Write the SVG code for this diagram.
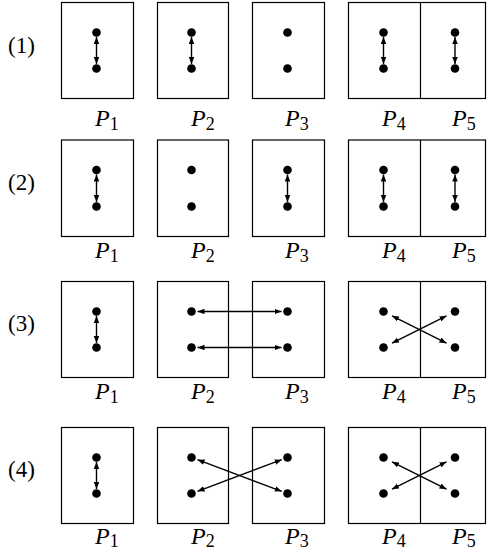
<svg xmlns="http://www.w3.org/2000/svg" width="487" height="553" viewBox="0 0 487 553">
<style>
.box{fill:none;stroke:#000;stroke-width:1.2}
.dot{fill:#000}
.arr{stroke:#000;stroke-width:1.4;fill:none;marker-start:url(#ah);marker-end:url(#ah)}
.row{font-family:"Liberation Serif","Times New Roman",serif;font-size:23px;fill:#000}
.lab{font-family:"Liberation Serif","Times New Roman",serif;font-size:24px;fill:#000}
.lab .p{font-style:italic}
.lab .s{font-size:18px}
</style>
<defs>
<marker id="ah" markerUnits="userSpaceOnUse" markerWidth="8" markerHeight="6" refX="7" refY="2.75" orient="auto-start-reverse">
<path d="M0,0 L7,2.75 L0,5.5 z" fill="#000"/>
</marker>
</defs>

<g id="row-labels">
<text class="row" x="8" y="53">(1)</text>
<text class="row" x="8" y="190">(2)</text>
<text class="row" x="8" y="331">(3)</text>
<text class="row" x="8" y="477">(4)</text>
</g>

<!-- Row 1 -->
<g id="r1">
<g id="r1-P1"><rect class="box" x="61.5" y="2.5" width="72" height="96"/><circle class="dot" cx="96.5" cy="32.5" r="4.3"/><circle class="dot" cx="96.5" cy="68.5" r="4.3"/></g>
<g id="r1-P2"><rect class="box" x="157.5" y="2.5" width="71" height="96"/><circle class="dot" cx="191.5" cy="32.5" r="4.3"/><circle class="dot" cx="191.5" cy="68.5" r="4.3"/></g>
<g id="r1-P3"><rect class="box" x="252.5" y="2.5" width="72" height="96"/><circle class="dot" cx="287.5" cy="32.5" r="4.3"/><circle class="dot" cx="287.5" cy="68.5" r="4.3"/></g>
<g id="r1-P45"><rect class="box" x="348.5" y="2.5" width="137" height="96"/><line class="box" x1="420.5" y1="2.5" x2="420.5" y2="98.5"/><circle class="dot" cx="383.5" cy="32.5" r="4.3"/><circle class="dot" cx="383.5" cy="68.5" r="4.3"/><circle class="dot" cx="455" cy="32.5" r="4.3"/><circle class="dot" cx="455" cy="68.5" r="4.3"/></g>
<g id="r1-labels" class="lab">
<text x="95" y="126"><tspan class="p">P</tspan><tspan class="s" dy="3.5">1</tspan></text>
<text x="191" y="126"><tspan class="p">P</tspan><tspan class="s" dy="3.5">2</tspan></text>
<text x="285" y="126"><tspan class="p">P</tspan><tspan class="s" dy="3.5">3</tspan></text>
<text x="382" y="126"><tspan class="p">P</tspan><tspan class="s" dy="3.5">4</tspan></text>
<text x="452" y="126"><tspan class="p">P</tspan><tspan class="s" dy="3.5">5</tspan></text>
</g>
</g>

<!-- Row 2 -->
<g id="r2">
<g id="r2-P1"><rect class="box" x="61.5" y="140" width="72" height="96.5"/><circle class="dot" cx="96.5" cy="170" r="4.3"/><circle class="dot" cx="96.5" cy="206.5" r="4.3"/></g>
<g id="r2-P2"><rect class="box" x="157.5" y="140" width="71" height="96.5"/><circle class="dot" cx="191.5" cy="170" r="4.3"/><circle class="dot" cx="191.5" cy="206.5" r="4.3"/></g>
<g id="r2-P3"><rect class="box" x="252.5" y="140" width="72" height="96.5"/><circle class="dot" cx="287.5" cy="170" r="4.3"/><circle class="dot" cx="287.5" cy="206.5" r="4.3"/></g>
<g id="r2-P45"><rect class="box" x="348.5" y="140" width="137" height="96.5"/><line class="box" x1="420.5" y1="140" x2="420.5" y2="236.5"/><circle class="dot" cx="383.5" cy="170" r="4.3"/><circle class="dot" cx="383.5" cy="206.5" r="4.3"/><circle class="dot" cx="455" cy="170" r="4.3"/><circle class="dot" cx="455" cy="206.5" r="4.3"/></g>
<g id="r2-labels" class="lab">
<text x="95" y="258"><tspan class="p">P</tspan><tspan class="s" dy="3.5">1</tspan></text>
<text x="191" y="258"><tspan class="p">P</tspan><tspan class="s" dy="3.5">2</tspan></text>
<text x="285" y="258"><tspan class="p">P</tspan><tspan class="s" dy="3.5">3</tspan></text>
<text x="382" y="258"><tspan class="p">P</tspan><tspan class="s" dy="3.5">4</tspan></text>
<text x="452" y="258"><tspan class="p">P</tspan><tspan class="s" dy="3.5">5</tspan></text>
</g>
</g>

<!-- Row 3 -->
<g id="r3">
<g id="r3-P1"><rect class="box" x="61.5" y="281.5" width="72" height="96"/><circle class="dot" cx="96.5" cy="311.5" r="4.3"/><circle class="dot" cx="96.5" cy="347.5" r="4.3"/></g>
<g id="r3-P2"><rect class="box" x="157.5" y="281.5" width="71" height="96"/><circle class="dot" cx="191.5" cy="311.5" r="4.3"/><circle class="dot" cx="191.5" cy="347.5" r="4.3"/></g>
<g id="r3-P3"><rect class="box" x="252.5" y="281.5" width="72" height="96"/><circle class="dot" cx="287.5" cy="311.5" r="4.3"/><circle class="dot" cx="287.5" cy="347.5" r="4.3"/></g>
<g id="r3-P45"><rect class="box" x="348.5" y="281.5" width="137" height="96"/><line class="box" x1="420.5" y1="281.5" x2="420.5" y2="377.5"/><circle class="dot" cx="383.5" cy="311.5" r="4.3"/><circle class="dot" cx="383.5" cy="347.5" r="4.3"/><circle class="dot" cx="455" cy="311.5" r="4.3"/><circle class="dot" cx="455" cy="347.5" r="4.3"/></g>
<g id="r3-labels" class="lab">
<text x="95" y="399"><tspan class="p">P</tspan><tspan class="s" dy="3.5">1</tspan></text>
<text x="191" y="399"><tspan class="p">P</tspan><tspan class="s" dy="3.5">2</tspan></text>
<text x="285" y="399"><tspan class="p">P</tspan><tspan class="s" dy="3.5">3</tspan></text>
<text x="382" y="399"><tspan class="p">P</tspan><tspan class="s" dy="3.5">4</tspan></text>
<text x="452" y="399"><tspan class="p">P</tspan><tspan class="s" dy="3.5">5</tspan></text>
</g>
</g>

<!-- Row 4 -->
<g id="r4">
<g id="r4-P1"><rect class="box" x="61.5" y="427.5" width="72" height="96"/><circle class="dot" cx="96.5" cy="457.5" r="4.3"/><circle class="dot" cx="96.5" cy="493.5" r="4.3"/></g>
<g id="r4-P2"><rect class="box" x="157.5" y="427.5" width="71" height="96"/><circle class="dot" cx="191.5" cy="457.5" r="4.3"/><circle class="dot" cx="191.5" cy="493.5" r="4.3"/></g>
<g id="r4-P3"><rect class="box" x="252.5" y="427.5" width="72" height="96"/><circle class="dot" cx="287.5" cy="457.5" r="4.3"/><circle class="dot" cx="287.5" cy="493.5" r="4.3"/></g>
<g id="r4-P45"><rect class="box" x="348.5" y="427.5" width="137" height="96"/><line class="box" x1="420.5" y1="427.5" x2="420.5" y2="523.5"/><circle class="dot" cx="383.5" cy="457.5" r="4.3"/><circle class="dot" cx="383.5" cy="493.5" r="4.3"/><circle class="dot" cx="455" cy="457.5" r="4.3"/><circle class="dot" cx="455" cy="493.5" r="4.3"/></g>
<g id="r4-labels" class="lab">
<text x="95" y="544"><tspan class="p">P</tspan><tspan class="s" dy="3">1</tspan></text>
<text x="191" y="544"><tspan class="p">P</tspan><tspan class="s" dy="3">2</tspan></text>
<text x="285" y="544"><tspan class="p">P</tspan><tspan class="s" dy="3">3</tspan></text>
<text x="382" y="544"><tspan class="p">P</tspan><tspan class="s" dy="3">4</tspan></text>
<text x="452" y="544"><tspan class="p">P</tspan><tspan class="s" dy="3">5</tspan></text>
</g>
</g>

<g id="connectors">
<line class="arr" x1="96.5" y1="37" x2="96.5" y2="64"/>
<line class="arr" x1="191.5" y1="37" x2="191.5" y2="64"/>
<line class="arr" x1="383.5" y1="37" x2="383.5" y2="64"/>
<line class="arr" x1="455" y1="37" x2="455" y2="64"/>
<line class="arr" x1="96.5" y1="174.5" x2="96.5" y2="202"/>
<line class="arr" x1="287.5" y1="174.5" x2="287.5" y2="202"/>
<line class="arr" x1="383.5" y1="174.5" x2="383.5" y2="202"/>
<line class="arr" x1="455" y1="174.5" x2="455" y2="202"/>
<line class="arr" x1="96.5" y1="316" x2="96.5" y2="343"/>
<line class="arr" x1="197.5" y1="311.5" x2="281.5" y2="311.5"/>
<line class="arr" x1="197.5" y1="347.5" x2="281.5" y2="347.5"/>
<line class="arr" x1="392" y1="315.8" x2="446.5" y2="343.2"/>
<line class="arr" x1="392" y1="343.2" x2="446.5" y2="315.8"/>
<line class="arr" x1="96.5" y1="462" x2="96.5" y2="489"/>
<line class="arr" x1="197.5" y1="459.7" x2="281.7" y2="491.3"/>
<line class="arr" x1="197.5" y1="491.3" x2="281.7" y2="459.7"/>
<line class="arr" x1="392" y1="461.8" x2="446.5" y2="489.2"/>
<line class="arr" x1="392" y1="489.2" x2="446.5" y2="461.8"/>
</g>
</svg>
